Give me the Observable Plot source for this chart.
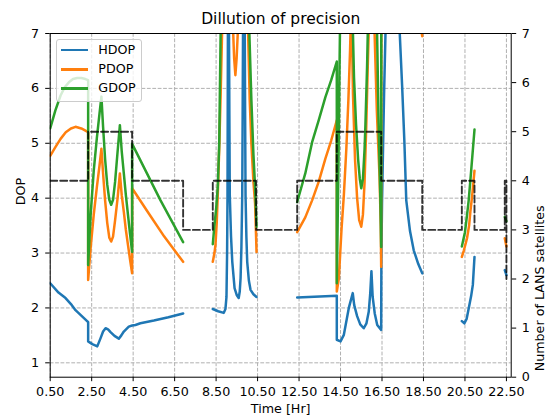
<!DOCTYPE html>
<html><head><meta charset="utf-8">
<script src="https://cdn.jsdelivr.net/npm/d3@7"></script>
<script src="https://cdn.jsdelivr.net/npm/@observablehq/plot@0.6"></script>
<style>
body{margin:0;background:#fff;font-family:"DejaVu Sans",sans-serif;}
#wrap{position:relative;width:553px;height:420px;}
.legend{position:absolute;left:56px;top:39px;width:86px;height:63px;border:1px solid #cccccc;border-radius:3px;background:rgba(255,255,255,0.8);box-sizing:border-box;font-family:"DejaVu Sans",sans-serif;font-size:12.7px;color:#000}
.legend .sw{position:absolute;left:4px;width:27px;height:2.5px}
.legend .lb{position:absolute;left:41.3px;transform:translateY(-50%);line-height:1;white-space:nowrap}
</style>
</head><body>
<div id="wrap"></div>
<script>
const titleText = "Dillution of precision";
const xLabel = "Time [Hr]";
const yLabel = "DOP";
const y2Label = "Number of LANS satellites";
const seriesNames = ["HDOP", "PDOP", "GDOP"];
const seriesColors = ["#1f77b4", "#ff7f0e", "#2ca02c"];
const xTicks = [0.5, 2.5, 4.5, 6.5, 8.5, 10.5, 12.5, 14.5, 16.5, 18.5, 20.5, 22.5];
const yTicks = [1, 2, 3, 4, 5, 6, 7];
const satTicks = [0, 1, 2, 3, 4, 5, 6, 7];
const xDomain = [0.5, 22.73];
const yDomain = [0.738, 7];
const satMax = 7;

// values above 7 are off the top of the chart (clipped)
const hdopTime = [0.5,0.9,1.24,1.5,1.72,2.0,2.28,2.33,2.33,2.53,2.77,2.93,3.05,3.17,3.29,3.41,3.6,3.81,3.93,4.05,4.29,4.45,4.61,4.85,5.5,6.2,6.91,7.6,
  8.34,8.6,8.87,8.95,9.0,9.03,9.05,9.06,9.07,9.09,9.11,9.12,9.14,9.16,9.22,9.28,9.39,9.5,9.59,9.64,9.68,9.72,9.76,9.78,9.8,9.82,9.86,9.88,9.9,9.92,9.96,10.0,10.08,10.16,10.3,10.45,11.0,
  12.41,14.32,14.32,14.5,14.66,14.9,15.09,15.16,15.3,15.45,15.62,15.75,15.86,15.93,15.99,16.05,16.15,16.27,16.46,16.47,16.5,16.55,16.6,16.68,16.75,17.28,17.35,17.47,17.58,17.67,17.85,18.03,18.25,18.44,19.0,
  20.35,20.47,20.58,20.68,20.8,20.88,20.96,21.5,
  22.42,22.5];
const hdop = [2.45,2.28,2.18,2.07,1.96,1.86,1.76,1.74,1.39,1.34,1.30,1.45,1.57,1.63,1.61,1.56,1.49,1.44,1.5,1.57,1.66,1.68,1.69,1.72,1.77,1.83,1.90,null,
  1.98,1.94,1.91,1.98,2.2,3.0,4.05,5.5,7.2,12,12,7.2,5.5,4.05,3.3,2.84,2.36,2.23,2.18,2.3,2.54,3.1,4.05,5.5,7.2,12,12,7.2,5.5,4.05,3.3,2.84,2.5,2.33,2.25,2.2,null,
  2.19,2.22,1.42,1.39,1.51,2.0,2.27,2.05,1.85,1.7,1.63,1.72,1.93,2.25,2.67,2.2,1.9,1.69,1.6,2.9,3.9,4.9,5.9,7.2,12,12,7.05,6.05,5.02,3.96,3.4,3.05,2.8,2.63,null,
  1.76,1.72,1.8,1.99,2.22,2.42,2.93,null,
  2.69,2.6];

const pdopTime = [0.5,0.75,1.0,1.25,1.5,1.72,2.0,2.2,2.33,2.33,2.45,2.6,2.75,2.88,2.97,3.05,3.15,3.25,3.35,3.44,3.53,3.63,3.75,3.86,3.95,4.05,4.15,4.25,4.35,4.45,4.45,5.15,6.0,6.91,7.6,
  8.34,8.42,8.47,8.53,8.58,8.65,8.72,8.79,8.85,9.3,9.32,9.37,9.43,9.49,9.55,9.58,10.0,10.04,10.12,10.2,10.3,10.38,10.45,11.0,
  12.41,12.8,13.13,13.45,13.77,14.05,14.32,14.32,14.42,14.55,14.66,14.78,14.88,14.96,15.0,15.02,15.04,15.1,15.2,15.3,15.4,15.5,15.58,15.66,15.74,15.82,15.88,15.95,16.08,16.12,16.25,16.38,16.44,16.46,16.47,18.3,18.44,19.0,
  20.35,20.45,20.6,20.7,20.76,20.85,20.96,21.5,
  22.42,22.5];
const pdop = [4.77,4.93,5.08,5.2,5.27,5.3,5.27,5.23,5.2,2.51,3.1,3.7,4.2,4.6,4.9,4.45,3.95,3.55,3.28,3.21,3.3,3.6,4.0,4.45,4.05,3.75,3.42,3.15,2.88,2.63,4.18,3.78,3.3,2.84,null,
  2.84,3.0,3.15,3.55,4.05,4.9,5.9,7.05,12,12,7.05,6.55,6.24,6.55,7.05,12,12,7.05,5.8,5.0,4.3,3.9,3.02,null,
  3.38,3.65,3.96,4.3,4.72,5.05,5.42,2.3,2.54,3.45,4.05,4.9,5.8,6.7,7.3,12,7.3,5.9,4.7,4.0,3.6,3.48,3.7,4.3,5.3,6.5,7.3,12,12,7.3,5.6,4.4,3.5,2.75,12,7.3,6.95,null,
  2.93,3.05,3.27,3.5,3.75,4.05,4.5,null,
  3.27,3.12];

const gdopTime = [0.5,0.75,1.0,1.2,1.4,1.6,1.8,2.0,2.2,2.33,2.33,2.45,2.6,2.75,2.88,2.97,3.05,3.15,3.25,3.35,3.44,3.53,3.63,3.75,3.86,3.95,4.05,4.15,4.25,4.35,4.45,4.45,5.82,6.91,7.6,
  8.34,8.42,8.5,8.58,8.65,8.72,8.78,10.05,10.1,10.2,10.3,10.38,10.45,11.0,
  12.41,12.8,13.13,13.45,13.77,14.05,14.32,14.32,14.36,14.4,14.44,14.48,14.52,15.04,15.08,15.15,15.25,15.35,15.43,15.5,15.58,15.66,15.7,15.78,15.83,15.88,16.2,16.25,16.33,16.42,16.46,16.47,18.44,19.0,
  20.35,20.5,20.6,20.68,20.8,20.96,21.5,
  22.42,22.5];
const gdop = [5.27,5.6,5.87,6.02,6.11,6.17,6.19,6.19,6.17,6.15,2.78,3.7,4.5,5.1,5.55,5.85,5.3,4.7,4.25,3.97,3.88,3.97,4.3,4.85,5.33,4.85,4.45,4.05,3.7,3.35,3.02,4.99,3.96,3.2,null,
  3.16,3.51,3.8,4.2,5.0,7.05,12,12,7.05,5.8,4.8,4.2,3.48,null,
  3.93,4.45,5.02,5.42,5.84,6.15,6.49,2.45,3.5,4.6,6.0,7.3,12,12,7.3,6.2,5.33,4.7,4.35,4.18,4.35,4.9,5.33,6.4,7.3,12,12,7.3,5.5,4.0,3.11,12,10,null,
  3.12,3.38,3.69,3.96,4.5,5.25,null,
  3.66,3.58];

const satTime = [0.5, 2.33, 4.45, 6.91, 8.34, 10.43, 12.41, 14.32, 16.46, 18.44, 20.35, 20.96, 22.42, 22.5];
const satCount = [4, 5, 4, 3, 4, 3, 4, 5, 4, 3, 4, 3, 4, 2];

const satToDop = s => yDomain[0] + s * (yDomain[1] - yDomain[0]) / satMax;
const dopToSat = d => (d - yDomain[0]) * satMax / (yDomain[1] - yDomain[0]);

const rows = (ts, vs) => ts.map((t, i) => ({t, v: vs[i]}));
const series = [rows(hdopTime, hdop), rows(pdopTime, pdop), rows(gdopTime, gdop)];
const satRows = satTime.map((t, i) => ({t, v: satToDop(satCount[i])}));

const gridStyle = {stroke: "#b0b0b0", strokeOpacity: 1, strokeWidth: 1, strokeDasharray: "3.8,1.6"};
const fs = 12.7;

const chart = Plot.plot({
  width: 553, height: 420,
  marginLeft: 49.7, marginRight: 42.3, marginTop: 33, marginBottom: 43.3,
  style: {fontFamily: "DejaVu Sans, sans-serif", fontSize: fs + "px", background: "#fff", color: "#000"},
  x: {domain: xDomain},
  y: {domain: yDomain},
  marks: [
    Plot.gridX(xTicks, gridStyle),
    Plot.gridY(yTicks, gridStyle),
    ...series.map((s, k) => Plot.line(s, {x: "t", y: "v", stroke: seriesColors[k], strokeWidth: 2.5, clip: true})),
    Plot.line(satRows, {x: "t", y: "v", curve: "step-after", stroke: "#000", strokeOpacity: 0.8, strokeWidth: 1.9, strokeDasharray: "7,3", clip: true}),
    Plot.frame({stroke: "#000", strokeWidth: 1}),
    Plot.axisX(xTicks, {tickFormat: d => d.toFixed(2), tickSize: 4.5, tickPadding: 5, fontSize: fs, label: null}),
    Plot.axisY(yTicks, {anchor: "left", tickSize: 4.5, tickPadding: 6.5, fontSize: fs, label: null,
      tickFormat: d => String(d)}),
    Plot.axisY(satTicks.map(satToDop), {anchor: "right", tickSize: 4.5, tickPadding: 6, fontSize: fs, label: null,
      tickFormat: d => String(Math.round(dopToSat(d)))}),
    Plot.text([titleText], {frameAnchor: "top", dy: -14, fontSize: 15.5, lineAnchor: "middle"}),
    Plot.text([xLabel], {frameAnchor: "bottom", dy: 32, fontSize: fs, lineAnchor: "middle"}),
    Plot.text([yLabel], {frameAnchor: "left", dx: -29.5, rotate: -90, fontSize: fs, lineAnchor: "middle"}),
    Plot.text([y2Label], {frameAnchor: "right", dx: 28.5, rotate: -90, fontSize: fs, lineAnchor: "middle"})
  ]
});
const wrap = document.getElementById("wrap");
wrap.appendChild(chart);

const legend = document.createElement("div");
legend.className = "legend";
const rowCenters = [10, 29.3, 48.3];
seriesNames.forEach((name, k) => {
  const sw = document.createElement("div");
  sw.className = "sw";
  sw.style.top = (rowCenters[k] - 1.25) + "px";
  sw.style.background = seriesColors[k];
  legend.appendChild(sw);
  const lb = document.createElement("span");
  lb.className = "lb";
  lb.style.top = rowCenters[k] + "px";
  lb.textContent = name;
  legend.appendChild(lb);
});
wrap.appendChild(legend);
</script>
</body></html>
